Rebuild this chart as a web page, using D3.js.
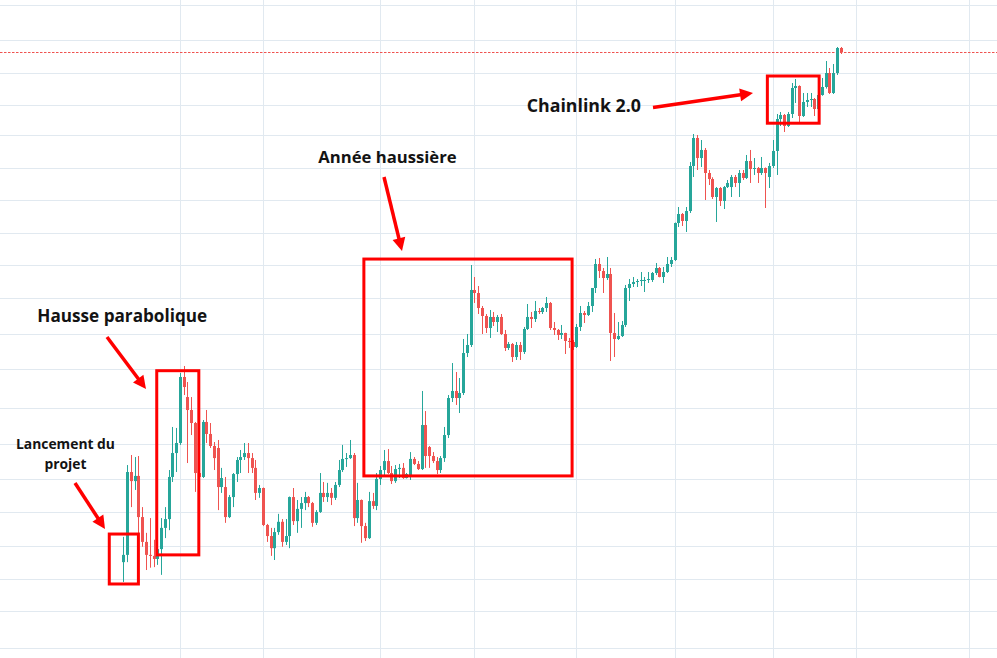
<!DOCTYPE html>
<html><head><meta charset="utf-8">
<script src="https://cdn.jsdelivr.net/npm/d3@7"></script>
<style>html,body{margin:0;padding:0;background:#fff;overflow:hidden}</style>
</head><body>
<svg id="chart" width="997" height="658"></svg>
<script>
// Weekly LINK/USD candles (log price), first week starting 2017-09-18
const firstWeek = "2017-09-18";
const open = [
0.169,0.183,0.454,0.411,0.435,0.277,0.211,0.183,0.181,0.175,
0.195,0.246,0.271,0.430,0.559,0.624,1.287,1.033,0.896,0.777,
0.449,0.430,0.786,0.689,0.604,0.591,0.385,0.385,0.277,0.345,
0.444,0.518,0.535,0.559,0.529,0.475,0.361,0.381,0.254,0.225,
0.197,0.235,0.263,0.211,0.225,0.345,0.265,0.303,0.323,0.345,
0.323,0.260,0.293,0.361,0.345,0.361,0.342,0.394,0.464,0.524,
0.529,0.547,0.274,0.334,0.251,0.220,0.330,0.313,0.421,0.464,
0.512,0.449,0.411,0.469,0.475,0.425,0.430,0.524,0.496,0.469,
0.760,0.597,0.541,0.512,0.464,0.529,0.681,1.022,1.104,1.022,
1.080,1.674,1.828,3.341,3.232,2.742,2.512,2.202,2.485,2.352,
2.485,2.062,1.769,1.848,1.602,1.828,1.693,2.178,2.485,2.431,
2.653,2.625,2.742,2.897,2.202,2.155,2.040,2.085,1.910,1.889,
1.788,2.227,2.596,2.540,2.803,3.415,4.442,4.114,3.810,3.981,
2.085,1.952,2.017,2.276,3.415,3.568,3.647,3.687,3.687,3.728,
3.728,4.025,4.252,3.852,4.069,4.442,4.642,6.964,7.686,7.118,
7.943,13.01,17.69,14.20,15.51,12.05,11.28,9.261,10.22,8.864,
10.33,10.33,11.53,10.80,12.05,11.41,13.74,12.59,12.73,12.05,
12.73,11.53,13.01,15.34,21.78,22.76,20.17,23.01,30.60,31.28,
22.51,26.25,26.83,27.12,24.31,28.34,30.94,36.07,28.97,36.07,
47.45];
const high = [
0.223,0.490,0.547,0.535,0.541,0.309,0.233,0.274,0.216,0.200,
0.274,0.309,0.464,0.744,0.736,1.345,1.452,1.218,1.033,0.786,
0.475,0.803,0.896,0.777,0.631,0.645,0.475,0.430,0.353,0.449,
0.535,0.578,0.624,0.624,0.559,0.518,0.394,0.383,0.257,0.246,
0.246,0.287,0.271,0.271,0.347,0.381,0.334,0.345,0.365,0.349,
0.327,0.299,0.449,0.407,0.403,0.381,0.407,0.518,0.611,0.559,
0.645,0.559,0.403,0.336,0.260,0.365,0.361,0.449,0.485,0.578,
0.584,0.485,0.490,0.496,0.501,0.449,0.565,0.535,0.512,1.104,
0.886,0.604,0.565,0.535,0.541,0.744,1.056,1.500,1.359,1.273,
1.952,2.062,4.394,3.852,3.490,2.803,2.568,2.683,2.625,2.540,
2.568,2.155,1.889,1.868,1.889,1.889,2.227,2.865,2.625,2.961,
2.742,2.772,3.094,2.929,2.352,2.178,2.276,2.090,1.974,1.931,
2.301,2.803,2.653,2.929,3.415,4.693,4.745,4.252,4.797,4.252,
2.596,2.352,2.378,3.529,3.769,3.852,3.769,4.069,3.852,4.069,
4.069,4.491,4.299,4.299,4.797,4.797,7.000,8.299,7.771,8.299,
13.59,18.48,18.28,17.30,15.85,12.45,11.50,10.33,10.33,10.45,
11.16,11.79,11.79,12.45,12.45,14.68,15.51,14.20,12.87,14.36,
12.80,13.45,17.30,23.01,23.52,23.01,23.52,32.32,33.77,31.50,
28.97,28.97,28.97,27.42,30.60,34.15,41.14,38.10,39.81,47.97,
47.97];
const low = [
0.136,0.169,0.309,0.373,0.211,0.200,0.155,0.159,0.160,0.164,
0.147,0.220,0.240,0.407,0.454,0.611,1.056,0.501,0.681,0.365,
0.390,0.425,0.624,0.591,0.464,0.299,0.361,0.260,0.274,0.309,
0.407,0.449,0.518,0.449,0.449,0.334,0.342,0.251,0.211,0.181,
0.173,0.228,0.200,0.204,0.197,0.254,0.233,0.246,0.299,0.309,
0.249,0.254,0.290,0.327,0.327,0.316,0.334,0.385,0.454,0.480,
0.524,0.251,0.260,0.209,0.213,0.218,0.303,0.299,0.394,0.439,
0.444,0.398,0.403,0.425,0.421,0.423,0.416,0.490,0.464,0.464,
0.475,0.475,0.501,0.444,0.449,0.507,0.659,0.978,0.947,0.867,
1.056,1.602,1.788,2.897,2.568,2.062,2.085,1.974,2.251,2.108,
2.040,1.711,1.730,1.517,1.551,1.551,1.656,2.155,2.202,2.352,
2.568,2.568,2.625,2.155,2.040,1.931,1.952,1.656,1.769,1.730,
1.769,2.131,2.326,2.512,2.625,3.232,3.810,3.232,3.728,1.534,
1.602,1.931,1.995,2.227,2.961,3.452,3.452,3.490,3.268,3.607,
3.647,3.938,3.838,3.607,4.025,4.299,4.591,6.665,6.739,6.310,
7.771,11.53,12.45,12.87,8.962,10.56,9.061,7.041,8.391,8.119,
10.22,9.261,10.33,9.261,11.16,11.28,10.80,11.79,10.80,11.79,
8.209,10.22,12.73,11.79,20.17,18.89,19.95,22.02,25.96,20.85,
22.27,24.85,24.85,22.51,24.04,28.10,30.40,28.65,28.65,35.29,
44.42];
const close = [
0.183,0.454,0.411,0.435,0.277,0.211,0.183,0.181,0.175,0.195,
0.246,0.271,0.430,0.559,0.624,1.287,1.153,0.896,0.777,0.449,
0.430,0.786,0.689,0.604,0.529,0.385,0.425,0.277,0.345,0.444,
0.518,0.535,0.559,0.529,0.475,0.361,0.381,0.254,0.225,0.197,
0.235,0.263,0.211,0.225,0.345,0.265,0.303,0.323,0.345,0.323,
0.260,0.293,0.361,0.345,0.361,0.342,0.394,0.464,0.524,0.529,
0.547,0.274,0.334,0.251,0.220,0.330,0.313,0.421,0.464,0.512,
0.449,0.411,0.469,0.475,0.425,0.444,0.524,0.496,0.469,0.760,
0.541,0.541,0.512,0.464,0.529,0.681,1.022,1.104,1.022,1.080,
1.674,1.828,3.341,3.232,2.742,2.512,2.202,2.485,2.352,2.485,
2.062,1.769,1.848,1.602,1.828,1.693,2.178,2.485,2.431,2.653,
2.625,2.742,2.897,2.202,2.155,2.040,2.085,1.910,1.889,1.788,
2.227,2.596,2.540,2.803,3.415,4.442,4.114,3.810,3.981,2.085,
1.952,2.017,2.276,3.415,3.568,3.647,3.687,3.728,3.728,3.769,
4.025,4.252,3.852,4.069,4.442,4.642,6.964,7.686,7.118,7.943,
13.01,17.69,14.20,15.51,12.05,11.28,9.261,10.22,8.864,10.33,
10.80,11.53,10.80,12.05,11.41,13.74,12.59,12.73,12.05,12.73,
12.05,13.01,15.34,21.78,22.76,20.17,23.01,30.60,31.28,22.51,
26.25,26.83,27.12,24.31,28.34,30.94,36.07,28.97,36.07,47.45,
45.41];

// Grid (price levels and time divisions of the chart)
const gridPrices = [76.0,51.8,36.1,25.4,18.3,12.7,8.96,6.24,4.39,3.06,2.06,1.405,0.916,0.617,0.421,0.293,0.202,0.141,0.099,0.0659];
const gridDates = ["2018-01-01","2018-06-04","2019-01-07","2019-07-01","2020-01-06","2020-07-06","2021-01-04","2021-06-07","2022-01-03"];

// Highlighted periods (date range, price range)
const boxFrom   = ["2017-08-23","2017-11-19","2018-12-08","2020-12-25"];
const boxTo     = ["2017-10-16","2018-02-05","2019-12-29","2021-03-31"];
const boxTop    = [0.230, 1.379, 4.69, 34.9];
const boxBottom = [0.133, 0.183, 0.435, 20.8];

// Annotation texts
const labelTexts = [["Lancement du","projet"],["Hausse parabolique"],["Année haussière"],["Chainlink 2.0"]];

// ---------------- drawing ----------------
const W = 997, H = 658;
const UP = "#26a69a", DOWN = "#ef5350", GRID = "#e1e9f0", MARK = "#ff0000";
const parse = d3.utcParse("%Y-%m-%d");
const svg = d3.select("#chart");
svg.append("rect").attr("width",W).attr("height",H).attr("fill","#fff");

const t0 = parse(firstWeek);
const dates = d3.utcMonday.range(t0, d3.utcMonday.offset(t0, open.length));
const x = d3.scaleUtc().domain([t0, parse("2022-01-03")]).range([123.3, 969.1]);
const y = d3.scaleLog().domain([0.1, 10]).range([610, 190]);

// grid
const grid = svg.append("g");
grid.selectAll("line.h").data(gridPrices).join("line").attr("class","h")
  .attr("x1",0).attr("x2",W)
  .attr("y1",d=>Math.round(y(d))+0.5).attr("y2",d=>Math.round(y(d))+0.5)
  .attr("stroke",GRID).attr("stroke-width",1);
grid.selectAll("line.v").data(gridDates.map(parse)).join("line").attr("class","v")
  .attr("y1",0).attr("y2",H)
  .attr("x1",d=>Math.round(x(d))+0.5).attr("x2",d=>Math.round(x(d))+0.5)
  .attr("stroke",GRID).attr("stroke-width",1);

// last price line
const last = close[close.length-1];
svg.append("line").attr("x1",0).attr("x2",W)
  .attr("y1",Math.round(y(last))+0.5).attr("y2",Math.round(y(last))+0.5)
  .attr("stroke",DOWN).attr("stroke-width",1).attr("stroke-dasharray","2.5,1.5");

// candles
const candles = dates.map((d,i)=>({d, o:open[i], h:high[i], l:low[i], c:close[i]}));
const cg = svg.append("g");
const col = d => d.c >= d.o ? UP : DOWN;
cg.selectAll("line").data(candles).join("line")
  .attr("x1",d=>Math.round(x(d.d))+0.5).attr("x2",d=>Math.round(x(d.d))+0.5)
  .attr("y1",d=>y(d.h)).attr("y2",d=>y(d.l))
  .attr("stroke",col).attr("stroke-width",1);
cg.selectAll("rect").data(candles).join("rect")
  .attr("x",d=>Math.round(x(d.d))-1).attr("width",3)
  .attr("y",d=>y(Math.max(d.o,d.c)))
  .attr("height",d=>Math.max(1, Math.abs(y(d.o)-y(d.c))))
  .attr("fill",col);

// boxes
const boxes = boxFrom.map((f,i)=>({x0:x(parse(f)), x1:x(parse(boxTo[i])), y0:y(boxTop[i]), y1:y(boxBottom[i])}));
svg.append("g").selectAll("rect").data(boxes).join("rect")
  .attr("x",d=>d.x0).attr("y",d=>d.y0)
  .attr("width",d=>d.x1-d.x0).attr("height",d=>d.y1-d.y0)
  .attr("fill","none").attr("stroke",MARK).attr("stroke-width",3);

// arrows (annotation layer, pixel space)
const arrows = [
  {x1:75, y1:483, x2:105, y2:529},
  {x1:107, y1:337, x2:146, y2:389},
  {x1:384, y1:177, x2:402, y2:251},
  {x1:653, y1:107.5, x2:753, y2:93}
];
const ag = svg.append("g");
arrows.forEach(a=>{
  const dx=a.x2-a.x1, dy=a.y2-a.y1, L=Math.hypot(dx,dy), ux=dx/L, uy=dy/L;
  const hl=13, hw=6.5;
  const bx=a.x2-ux*hl, by=a.y2-uy*hl;
  ag.append("line").attr("x1",a.x1).attr("y1",a.y1).attr("x2",bx+ux*2).attr("y2",by+uy*2)
    .attr("stroke",MARK).attr("stroke-width",3.5);
  ag.append("path").attr("d",`M${a.x2},${a.y2}L${bx-uy*hw},${by+ux*hw}L${bx+uy*hw},${by-ux*hw}Z`)
    .attr("fill",MARK);
});

// labels
const labelPos = [
  {x:65.5, y:449.3, anchor:"middle", size:14, gap:20, width:99},
  {x:37.3, y:322, anchor:"start", size:17, gap:0, width:170},
  {x:318.3, y:162.7, anchor:"start", size:16, gap:0, width:138.4},
  {x:526.7, y:111.7, anchor:"start", size:16, gap:0, width:114.3}
];
const lg = svg.append("g").attr("font-family","'Open Sans', 'Noto Sans', sans-serif").attr("font-weight",700).attr("fill","#131313");
labelTexts.forEach((lines,i)=>{
  const p = labelPos[i];
  const t = lg.append("text").attr("text-anchor",p.anchor).attr("font-size",p.size);
  lines.forEach((s,j)=>t.append("tspan").attr("x",p.x).attr("y",p.y+j*p.gap).text(s));
  const w = t.select("tspan").node().getComputedTextLength();
  if (w>0) t.attr("font-size", p.size*p.width/w);
});
</script>
</body></html>
